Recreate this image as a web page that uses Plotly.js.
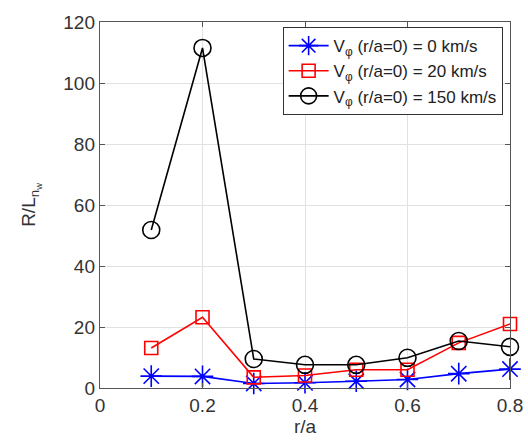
<!DOCTYPE html>
<html><head><meta charset="utf-8">
<script src="https://cdn.plot.ly/plotly-3.0.1.min.js"></script>
<style>html,body{margin:0;padding:0;background:#fff}</style>
</head><body>
<div id="chart" style="width:528px;height:446px"></div>
<script>
const rA = [0.1, 0.2, 0.3, 0.4, 0.5, 0.6, 0.7, 0.8];
const v0 = [3.9, 3.8, 1.5, 1.7, 2.2, 2.8, 4.7, 6.2];
const v20 = [13.1, 23.2, 3.5, 4.1, 6.0, 6.0, 14.8, 21.0];
const v150 = [51.8, 111.5, 9.5, 7.6, 7.6, 9.9, 15.4, 13.5];
const names = ['V<sub>φ</sub> (r/a=0) = 0 km/s', 'V<sub>φ</sub> (r/a=0) = 20 km/s', 'V<sub>φ</sub> (r/a=0) = 150 km/s'];
const xTicks = [0, 0.2, 0.4, 0.6, 0.8];
const xTickText = ['0', '0.2', '0.4', '0.6', '0.8'];
const yTicks = [0, 20, 40, 60, 80, 100, 120];

const FONT = 'Liberation Sans, Arial, sans-serif';
const traces = [
  {x: rA, y: v0, name: names[0], mode: 'lines+markers', cliponaxis: false,
   line: {color: '#0000ff', width: 1.6},
   marker: {symbol: 'asterisk-open', size: 18, color: '#0000ff', line: {color: '#0000ff', width: 1.6}}},
  {x: rA, y: v20, name: names[1], mode: 'lines+markers', cliponaxis: false,
   line: {color: '#ff0000', width: 1.6},
   marker: {symbol: 'square-open', size: 13, color: '#ff0000', line: {color: '#ff0000', width: 1.6}}},
  {x: rA, y: v150, name: names[2], mode: 'lines+markers', cliponaxis: false,
   line: {color: '#000000', width: 1.6},
   marker: {symbol: 'circle-open', size: 17, color: '#000000', line: {color: '#000000', width: 1.6}}}
];

const axisCommon = {
  showline: true, mirror: 'allticks', linecolor: '#555', linewidth: 1.2,
  ticks: 'inside', ticklen: 5, tickcolor: '#555',
  showgrid: true, gridcolor: '#e2e2e2', gridwidth: 1, zeroline: false,
  tickfont: {family: FONT, size: 19, color: '#333'}
};

const layout = {
  width: 528, height: 446,
  margin: {l: 100, r: 18, t: 22, b: 58},
  paper_bgcolor: '#fff', plot_bgcolor: '#fff',
  showlegend: true,
  xaxis: Object.assign({}, axisCommon, {
    range: [0, 0.8], tickvals: xTicks, ticktext: xTickText,
    title: {text: 'r/a', font: {family: FONT, size: 19, color: '#333'}, standoff: 4}
  }),
  yaxis: Object.assign({}, axisCommon, {
    range: [0, 120], tickvals: yTicks,
    title: {text: 'R/L<sub>n<sub>w</sub></sub>', font: {family: FONT, size: 19, color: '#333'}, standoff: 22}
  }),
  legend: {
    x: 0.982, xanchor: 'right', y: 0.986, yanchor: 'top',
    bgcolor: '#fff', bordercolor: '#333', borderwidth: 1,
    font: {family: FONT, size: 17, color: '#222'},
    tracegroupgap: 0, itemwidth: 40
  }
};

Plotly.newPlot('chart', traces, layout, {displayModeBar: false, staticPlot: true});
</script>
</body></html>
